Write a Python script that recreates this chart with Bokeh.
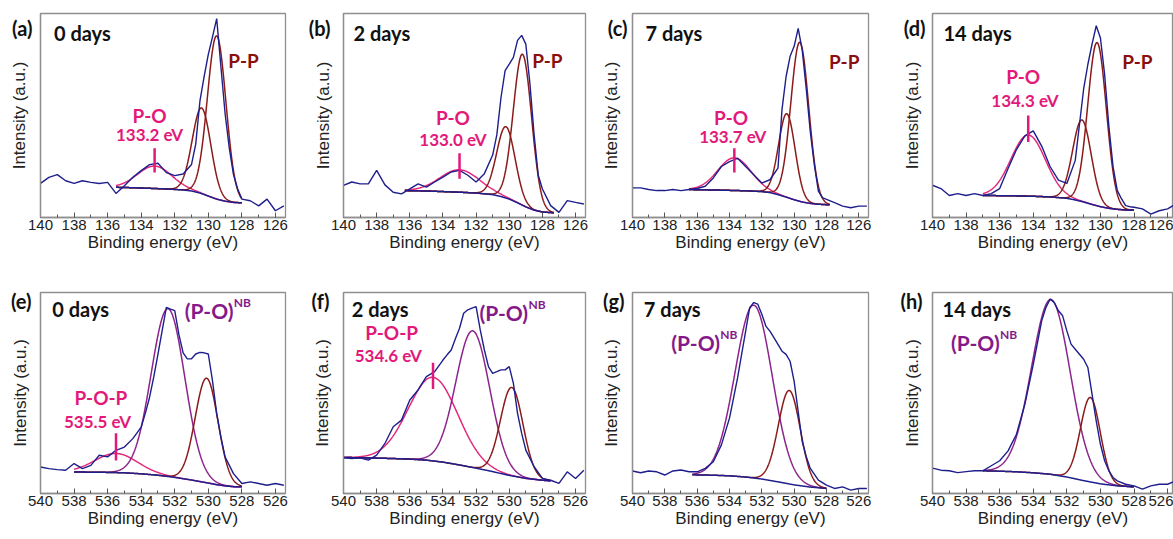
import numpy as np
from bokeh.plotting import figure
from bokeh.models import Range1d, FixedTicker, SingleIntervalTicker, Label
from bokeh.layouts import row, column
from bokeh.embed import file_html
from bokeh.resources import INLINE

# ---------------- data ----------------
panel_tags = ["(a)", "(b)", "(c)", "(d)", "(e)", "(f)", "(g)", "(h)"]
panel_days = ["0 days", "2 days", "7 days", "14 days", "0 days", "2 days", "7 days", "14 days"]
x_title = "Binding energy (eV)"
y_title = "Intensity (a.u.)"

# P 2p region: binding energy grid (eV) and measured intensity (a.u.)
p2p_energy = [140, 139.5, 139, 138.5, 138, 137.5, 137, 136.5, 136, 135.5,
              135, 134.5, 134, 133.5, 133, 132.5, 132, 131.5, 131,
              130.75, 130.5, 130.25, 130, 129.75, 129.5, 129.25, 129, 128.75, 128.5, 128.25,
              128, 127.5, 127, 126.5, 126, 125.5]
p2p_counts_0d = [16.7, 19.7, 21, 18, 16.7, 18, 17.2, 16.7, 17.2, 11.8,
                 15.6, 19.7, 23, 25.9, 26.6, 22, 20.5, 21.3, 26,
                 36, 57, 69, 80, 88.5, 97.5, 74, 51, 34, 21, 14,
                 9, 8.2, 5.7, 9, 3.3, 5.7]
p2p_counts_2d = [15.7, 17.4, 16.5, 16.5, 23.1, 16, 12.4, 11.6, 14, 16.5,
                 14.9, 17.4, 19.8, 22.3, 23.1, 20.7, 17.4, 21.5, 30.6,
                 40.5, 58.7, 72, 75.2, 78.5, 86.8, 89.3, 85, 65.3, 40.5, 20.7,
                 14, 5.8, 2.5, 8.3, 7.4, 6.6]
p2p_counts_7d = [14.5, 14.5, 13.7, 13.2, 13.2, 13.7, 13.2, 13.7, 14.2, 15.3,
                 19.4, 25, 27.4, 29, 25, 21, 16.9, 18.5, 24.2,
                 53, 69, 79, 83.9, 92.7, 82, 63, 42, 25.8, 12.9, 9.7,
                 8.9, 7.3, 5.6, 4.8, 5.6, 5.6]
p2p_counts_14d = [15.8, 14.2, 10.8, 11.7, 10.8, 11.7, 10.8, 11.7, 14.2, 24,
                  33.3, 40, 42.5, 35, 25, 18.3, 16.7, 28, 63,
                  75, 85, 94, 88, 70, 45, 25, 13.3, 9.2, 5.8, 5.3,
                  5, 4.2, 1.7, 3.3, 4.2, 6.7]

# O 1s region
o1s_energy = [540, 539.5, 539, 538.5, 538, 537.5, 537, 536.5, 536, 535.5, 535, 534.5, 534,
              533.75, 533.5, 533.25, 533, 532.75, 532.5, 532.25, 532, 531.75, 531.5, 531.25,
              531, 530.75, 530.5, 530.25, 530, 529.75, 529.5, 529.25,
              529, 528.5, 528, 527.5, 527, 526.5, 526, 525.5]
o1s_counts_0d = [13.2, 12.4, 11.9, 11.6, 14.9, 12.4, 14, 19, 18.2, 21.5, 23.1, 27.3, 33,
                 40, 47.9, 58, 69.4, 81, 92.6, 91.7, 91, 79, 70, 67,
                 67, 69.4, 70.2, 70, 69.4, 56, 39.7, 28,
                 18.2, 9.9, 5, 5.8, 5, 4.1, 5, 4.1]
o1s_counts_2d = [17.9, 17.4, 17.8, 16.6, 19.1, 24.9, 33.2, 36.5, 46.5, 51.5, 58.1, 60.6, 66.4,
                 69, 71.4, 77, 82.2, 89.7, 91.4, 92.2, 93, 81.4, 71.4, 63,
                 59.8, 60.6, 61.5, 61.5, 63.1, 54.8, 39.9, 29.9,
                 21.6, 13.3, 7.5, 6.6, 5, 10.8, 7.5, 11.6]
o1s_counts_7d = [11.2, 10.3, 11.2, 10.8, 9.2, 11.2, 11.7, 10.8, 10.8, 12.5, 15.8, 24.2, 37.5,
                 47.5, 57.5, 69.2, 80.8, 92.5, 95, 94.2, 89.2, 83.3, 80.8, 77.5,
                 74.2, 70.8, 69.2, 65.8, 55.8, 40.8, 25.8, 18.3,
                 12.5, 6.7, 4.2, 2.5, 3.3, 1.7, 2.5, 2.5]
o1s_counts_14d = [12.6, 11.6, 11.3, 10.4, 10.9, 11.3, 11.3, 13.8, 16.3, 21.2, 29.5, 44.4, 64.3,
                  75, 85.9, 92.5, 96.7, 95, 90.9, 88.4, 80.9, 74.3, 71.8, 69.3,
                  66.8, 62.7, 49.4, 36, 24.5, 16.3, 11.3, 8,
                  6.3, 4.6, 3.8, 2.2, 3.8, 4.6, 4.6, 6.3]

# fitted backgrounds (energy, level)
bg_energy_0d_p = [135.5, 134.5, 133.5, 132.5, 131.5, 131, 130.5, 130, 129.5, 129, 128.5, 128]
bg_level_0d_p = [14.8, 14.6, 14.3, 14.0, 13.5, 13.0, 12.0, 10.5, 9.0, 8.0, 7.4, 7.2]
bg_energy_2d_p = [136.3, 135, 134, 133, 132, 131, 130.5, 130, 129.5, 129, 128.5, 128, 127.3]
bg_level_2d_p = [13.2, 13.0, 12.7, 12.4, 12.0, 11.2, 10.3, 9.0, 7.2, 5.2, 3.6, 2.7, 2.3]
bg_energy_7d_p = [136.5, 135, 134, 133, 132, 131.5, 131, 130.5, 130, 129.5, 129, 128.5, 127.8]
bg_level_7d_p = [13.7, 13.5, 13.3, 13.1, 12.7, 12.2, 11.2, 10.0, 8.7, 7.6, 6.9, 6.5, 6.2]
bg_energy_14d_p = [137, 136, 135, 134, 133, 132, 131.5, 131, 130.5, 130, 129.5, 129, 128.5, 128]
bg_level_14d_p = [10.8, 10.7, 10.6, 10.4, 10.1, 9.4, 8.6, 7.6, 6.4, 5.3, 4.5, 4.0, 3.7, 3.6]
bg_energy_0d_o = [538, 537, 536, 535, 534, 533, 532, 531, 530, 529.5, 529, 528.5, 528]
bg_level_0d_o = [10.7, 10.6, 10.5, 10.3, 9.8, 9.1, 8.0, 6.7, 5.2, 4.4, 3.8, 3.4, 3.3]
bg_energy_2d_o = [540, 539, 538, 537, 536, 535, 534, 533, 532, 531, 530, 529, 528, 527.5]
bg_level_2d_o = [17.9, 17.8, 17.6, 17.4, 17.1, 16.6, 15.6, 14.2, 12.6, 10.9, 9.0, 7.5, 6.6, 6.3]
bg_energy_7d_o = [536.3, 535, 534, 533, 532, 531, 530, 529, 528]
bg_level_7d_o = [9.3, 9.1, 8.8, 8.2, 7.2, 5.8, 4.3, 3.2, 2.5]
bg_energy_14d_o = [537, 536, 535, 534, 533, 532, 531, 530, 529, 528]
bg_level_14d_o = [11.3, 11.1, 10.8, 10.3, 9.6, 8.2, 6.4, 4.8, 3.8, 3.3]

# fitted components: centre (eV), height above background, FWHM (eV)
peaks_0d_p_center = [133.2, 130.4, 129.5]
peaks_0d_p_height = [11, 42, 80]
peaks_0d_p_fwhm = [2.4, 1.3, 1.3]
peaks_2d_p_center = [133.0, 130.2, 129.2]
peaks_2d_p_height = [11, 35, 74]
peaks_2d_p_fwhm = [2.8, 1.3, 1.3]
peaks_7d_p_center = [133.7, 130.45, 129.65]
peaks_7d_p_height = [16, 41, 78]
peaks_7d_p_fwhm = [2.4, 1.2, 1.3]
peaks_14d_p_center = [134.3, 131.1, 130.2]
peaks_14d_p_height = [30, 40, 80]
peaks_14d_p_fwhm = [2.4, 1.3, 1.3]
p2p_kinds = ["P-O", "P-P", "P-P"]

peaks_0d_o_center = [535.5, 532.4, 530.1]
peaks_0d_o_height = [9.5, 83.5, 52]
peaks_0d_o_fwhm = [3.0, 2.35, 1.6]
peaks_2d_o_center = [534.6, 532.2, 529.85]
peaks_2d_o_height = [41.6, 68, 44]
peaks_2d_o_fwhm = [3.5, 2.4, 1.6]
peaks_7d_o_center = [532.5, 530.3]
peaks_7d_o_height = [86, 46.5]
peaks_7d_o_fwhm = [2.7, 1.6]
peaks_14d_o_center = [532.95, 530.6]
peaks_14d_o_height = [87, 42]
peaks_14d_o_fwhm = [2.7, 1.4]
o1s_kinds3 = ["P-O-P", "NB", "O"]
o1s_kinds2 = ["NB", "O"]

# ---------------- styling ----------------
NAVY = "#1e1e8c"
DARKRED = "#8b1a1a"
PINK = "#e3287a"
PURPLE = "#8c248c"
LBL_RED = "#8b0f0f"
LBL_PINK = "#e2197a"
LBL_PURPLE = "#86198a"
FRAME = "#8f8f8f"
TXT = "#222222"
KIND_COLOR = {"P-O": PINK, "P-P": DARKRED, "P-O-P": PINK, "NB": PURPLE, "O": DARKRED}

# column: (width, border left, border right); row: (height, border top, border bottom)
COLS = [(303, 40, 18), (295, 40, 13), (295, 29, 25), (280, 39, 0)]
ROWS = [(263, 13, 46), (276, 29, 46)]
XR = [[(140, 125.4)] * 3 + [(140, 125.65)], [(540, 525.4)] * 3 + [(540, 525.65)]]
TAG_GAP = [8, 13, 5, 7, 9, 14, 8, 10]          # gap between tag and frame (px)
TAG_W = [22, 24, 21, 24, 23, 19, 23, 24]        # approx. tag width (px)

BOLD = "Lato"


def gauss(x, c, h, w):
    return h * np.exp(-4.0 * np.log(2.0) * (np.asarray(x) - c) ** 2 / w ** 2)


def base_fig(i):
    r, c = divmod(i, 4)
    W, L, R = COLS[c]
    H, T, B = ROWS[r]
    x0, x1 = XR[r][c]
    p = figure(width=W, height=H, x_range=Range1d(x0, x1), y_range=Range1d(0, 100),
               output_backend="svg", toolbar_location=None, title=None,
               min_border_left=L, min_border_right=R, min_border_top=T, min_border_bottom=B)
    p.xgrid.visible = False
    p.ygrid.visible = False
    p.outline_line_color = FRAME
    p.outline_line_width = 1.3
    p.background_fill_color = "white"
    p.border_fill_color = "white"
    ax = p.xaxis[0]
    ax.ticker = SingleIntervalTicker(interval=2, num_minor_ticks=2)
    ax.axis_line_color = FRAME
    ax.axis_line_width = 1.3
    ax.major_tick_in = 5
    ax.major_tick_out = 0
    ax.minor_tick_in = 3
    ax.minor_tick_out = 0
    ax.major_tick_line_color = "#555555"
    ax.minor_tick_line_color = "#555555"
    ax.major_label_text_font = "Liberation Sans"
    ax.major_label_text_font_size = "15px"
    ax.major_label_text_color = TXT
    ax.major_label_standoff = 2
    ax.axis_label = x_title
    ax.axis_label_text_font = "Liberation Sans"
    ax.axis_label_text_font_size = "17px"
    ax.axis_label_text_font_style = "normal"
    ax.axis_label_text_color = TXT
    ax.axis_label_standoff = 0
    # y axis: no intensity ticks; its single tick label carries the panel tag
    tag_y = 93 if r == 0 else 96
    ay = p.yaxis[0]
    ay.ticker = FixedTicker(ticks=[tag_y])
    ay.major_label_overrides = {tag_y: panel_tags[i]}
    ay.axis_line_color = FRAME
    ay.axis_line_width = 1.3
    ay.major_tick_in = 0
    ay.major_tick_out = 0
    ay.major_tick_line_color = None
    ay.minor_tick_line_color = None
    ay.major_label_text_font = BOLD
    ay.major_label_text_font_style = "bold"
    ay.major_label_text_font_size = "20px"
    ay.major_label_text_color = "#111111"
    ay.major_label_standoff = TAG_GAP[i]
    ay.axis_label = y_title
    ay.axis_label_text_font = "Liberation Sans"
    ay.axis_label_text_font_size = "17px"
    ay.axis_label_text_font_style = "normal"
    ay.axis_label_text_color = TXT
    ay.axis_label_standoff = 10 - TAG_GAP[i] - TAG_W[i]
    return p


def add_text(p, x, y, text, color, size="19px", align="center"):
    p.add_layout(Label(x=x, y=y, text=text, text_font=BOLD, text_font_style="bold",
                       text_font_size=size, text_color=color, text_align=align,
                       text_baseline="middle"))


def add_nb(p, x, y):
    add_text(p, x, y, "(P-O)", LBL_PURPLE, size="21px", align="left")
    p.add_layout(Label(x=x, y=y, x_offset=49, y_offset=8, text="NB", text_font=BOLD,
                       text_font_style="bold", text_font_size="12px", text_color=LBL_PURPLE,
                       text_align="left", text_baseline="middle"))


def draw_spectrum(p, energy, counts, bg_e, bg_l, centers, heights, fwhms, kinds):
    xs = np.linspace(bg_e[0], bg_e[-1], 400)
    bgi = np.interp(xs, bg_e[::-1], bg_l[::-1])
    for c, h, w, k in zip(centers, heights, fwhms, kinds):
        p.line(xs, gauss(xs, c, h, w) + bgi, line_color=KIND_COLOR[k], line_width=1.5)
    p.line(xs, bgi, line_color=NAVY, line_width=1.5)
    p.line(energy, counts, line_color=NAVY, line_width=1.4)


figs = []

# (a) P 2p, 0 days
p = base_fig(0)
draw_spectrum(p, p2p_energy, p2p_counts_0d, bg_energy_0d_p, bg_level_0d_p,
              peaks_0d_p_center, peaks_0d_p_height, peaks_0d_p_fwhm, p2p_kinds)
add_text(p, 139.2, 90.5, panel_days[0], "#111111", size="20px", align="left")
add_text(p, 127.9, 77, "P-P", LBL_RED)
add_text(p, 133.5, 50, "P-O", LBL_PINK)
add_text(p, 133.5, 40.5, f"{peaks_0d_p_center[0]:.1f} eV", LBL_PINK, size="17px")
p.segment(x0=[peaks_0d_p_center[0]], y0=[22], x1=[peaks_0d_p_center[0]], y1=[34],
          line_color=LBL_PINK, line_width=2.5)
figs.append(p)

# (b) P 2p, 2 days
p = base_fig(1)
draw_spectrum(p, p2p_energy, p2p_counts_2d, bg_energy_2d_p, bg_level_2d_p,
              peaks_2d_p_center, peaks_2d_p_height, peaks_2d_p_fwhm, p2p_kinds)
add_text(p, 139.4, 90.5, panel_days[1], "#111111", size="20px", align="left")
add_text(p, 127.7, 77, "P-P", LBL_RED)
add_text(p, 133.4, 49, "P-O", LBL_PINK)
add_text(p, 133.4, 38, f"{peaks_2d_p_center[0]:.1f} eV", LBL_PINK, size="17px")
p.segment(x0=[peaks_2d_p_center[0]], y0=[19], x1=[peaks_2d_p_center[0]], y1=[31.5],
          line_color=LBL_PINK, line_width=2.5)
figs.append(p)

# (c) P 2p, 7 days
p = base_fig(2)
draw_spectrum(p, p2p_energy, p2p_counts_7d, bg_energy_7d_p, bg_level_7d_p,
              peaks_7d_p_center, peaks_7d_p_height, peaks_7d_p_fwhm, p2p_kinds)
add_text(p, 139.2, 90.5, panel_days[2], "#111111", size="20px", align="left")
add_text(p, 126.9, 76.5, "P-P", LBL_RED)
add_text(p, 133.9, 49, "P-O", LBL_PINK)
add_text(p, 133.8, 39.5, f"{peaks_7d_p_center[0]:.1f} eV", LBL_PINK, size="17px")
p.segment(x0=[peaks_7d_p_center[0]], y0=[22], x1=[peaks_7d_p_center[0]], y1=[34],
          line_color=LBL_PINK, line_width=2.5)
figs.append(p)

# (d) P 2p, 14 days
p = base_fig(3)
draw_spectrum(p, p2p_energy, p2p_counts_14d, bg_energy_14d_p, bg_level_14d_p,
              peaks_14d_p_center, peaks_14d_p_height, peaks_14d_p_fwhm, p2p_kinds)
add_text(p, 139.35, 90.5, panel_days[3], "#111111", size="20px", align="left")
add_text(p, 127.8, 76.5, "P-P", LBL_RED)
add_text(p, 134.6, 69, "P-O", LBL_PINK)
add_text(p, 134.5, 57.5, f"{peaks_14d_p_center[0]:.1f} eV", LBL_PINK, size="17px")
p.segment(x0=[peaks_14d_p_center[0]], y0=[37], x1=[peaks_14d_p_center[0]], y1=[50],
          line_color=LBL_PINK, line_width=2.5)
figs.append(p)

# (e) O 1s, 0 days
p = base_fig(4)
draw_spectrum(p, o1s_energy, o1s_counts_0d, bg_energy_0d_o, bg_level_0d_o,
              peaks_0d_o_center, peaks_0d_o_height, peaks_0d_o_fwhm, o1s_kinds3)
add_text(p, 539.3, 92, panel_days[4], "#111111", size="20px", align="left")
add_nb(p, 531.4, 91)
add_text(p, 536.4, 48, "P-O-P", LBL_PINK)
add_text(p, 536.6, 36, f"{peaks_0d_o_center[0]:.1f} eV", LBL_PINK, size="17px")
p.segment(x0=[peaks_0d_o_center[0]], y0=[16.4], x1=[peaks_0d_o_center[0]], y1=[30],
          line_color=LBL_PINK, line_width=2.5)
figs.append(p)

# (f) O 1s, 2 days
p = base_fig(5)
draw_spectrum(p, o1s_energy, o1s_counts_2d, bg_energy_2d_o, bg_level_2d_o,
              peaks_2d_o_center, peaks_2d_o_height, peaks_2d_o_fwhm, o1s_kinds3)
add_text(p, 539.5, 92, panel_days[5], "#111111", size="20px", align="left")
add_nb(p, 531.8, 90)
add_text(p, 537.1, 80, "P-O-P", LBL_PINK)
add_text(p, 537.3, 68.7, f"{peaks_2d_o_center[0]:.1f} eV", LBL_PINK, size="17px")
p.segment(x0=[peaks_2d_o_center[0]], y0=[52], x1=[peaks_2d_o_center[0]], y1=[65],
          line_color=LBL_PINK, line_width=2.5)
figs.append(p)

# (g) O 1s, 7 days
p = base_fig(6)
draw_spectrum(p, o1s_energy, o1s_counts_7d, bg_energy_7d_o, bg_level_7d_o,
              peaks_7d_o_center, peaks_7d_o_height, peaks_7d_o_fwhm, o1s_kinds2)
add_text(p, 539.3, 92, panel_days[6], "#111111", size="20px", align="left")
add_nb(p, 537.6, 75)
figs.append(p)

# (h) O 1s, 14 days
p = base_fig(7)
draw_spectrum(p, o1s_energy, o1s_counts_14d, bg_energy_14d_o, bg_level_14d_o,
              peaks_14d_o_center, peaks_14d_o_height, peaks_14d_o_fwhm, o1s_kinds2)
add_text(p, 539.4, 92, panel_days[7], "#111111", size="20px", align="left")
add_nb(p, 538.9, 75)
figs.append(p)

layout = column(row(*figs[:4]), row(*figs[4:]))
open("out.html", "w").write(file_html(layout, INLINE))
